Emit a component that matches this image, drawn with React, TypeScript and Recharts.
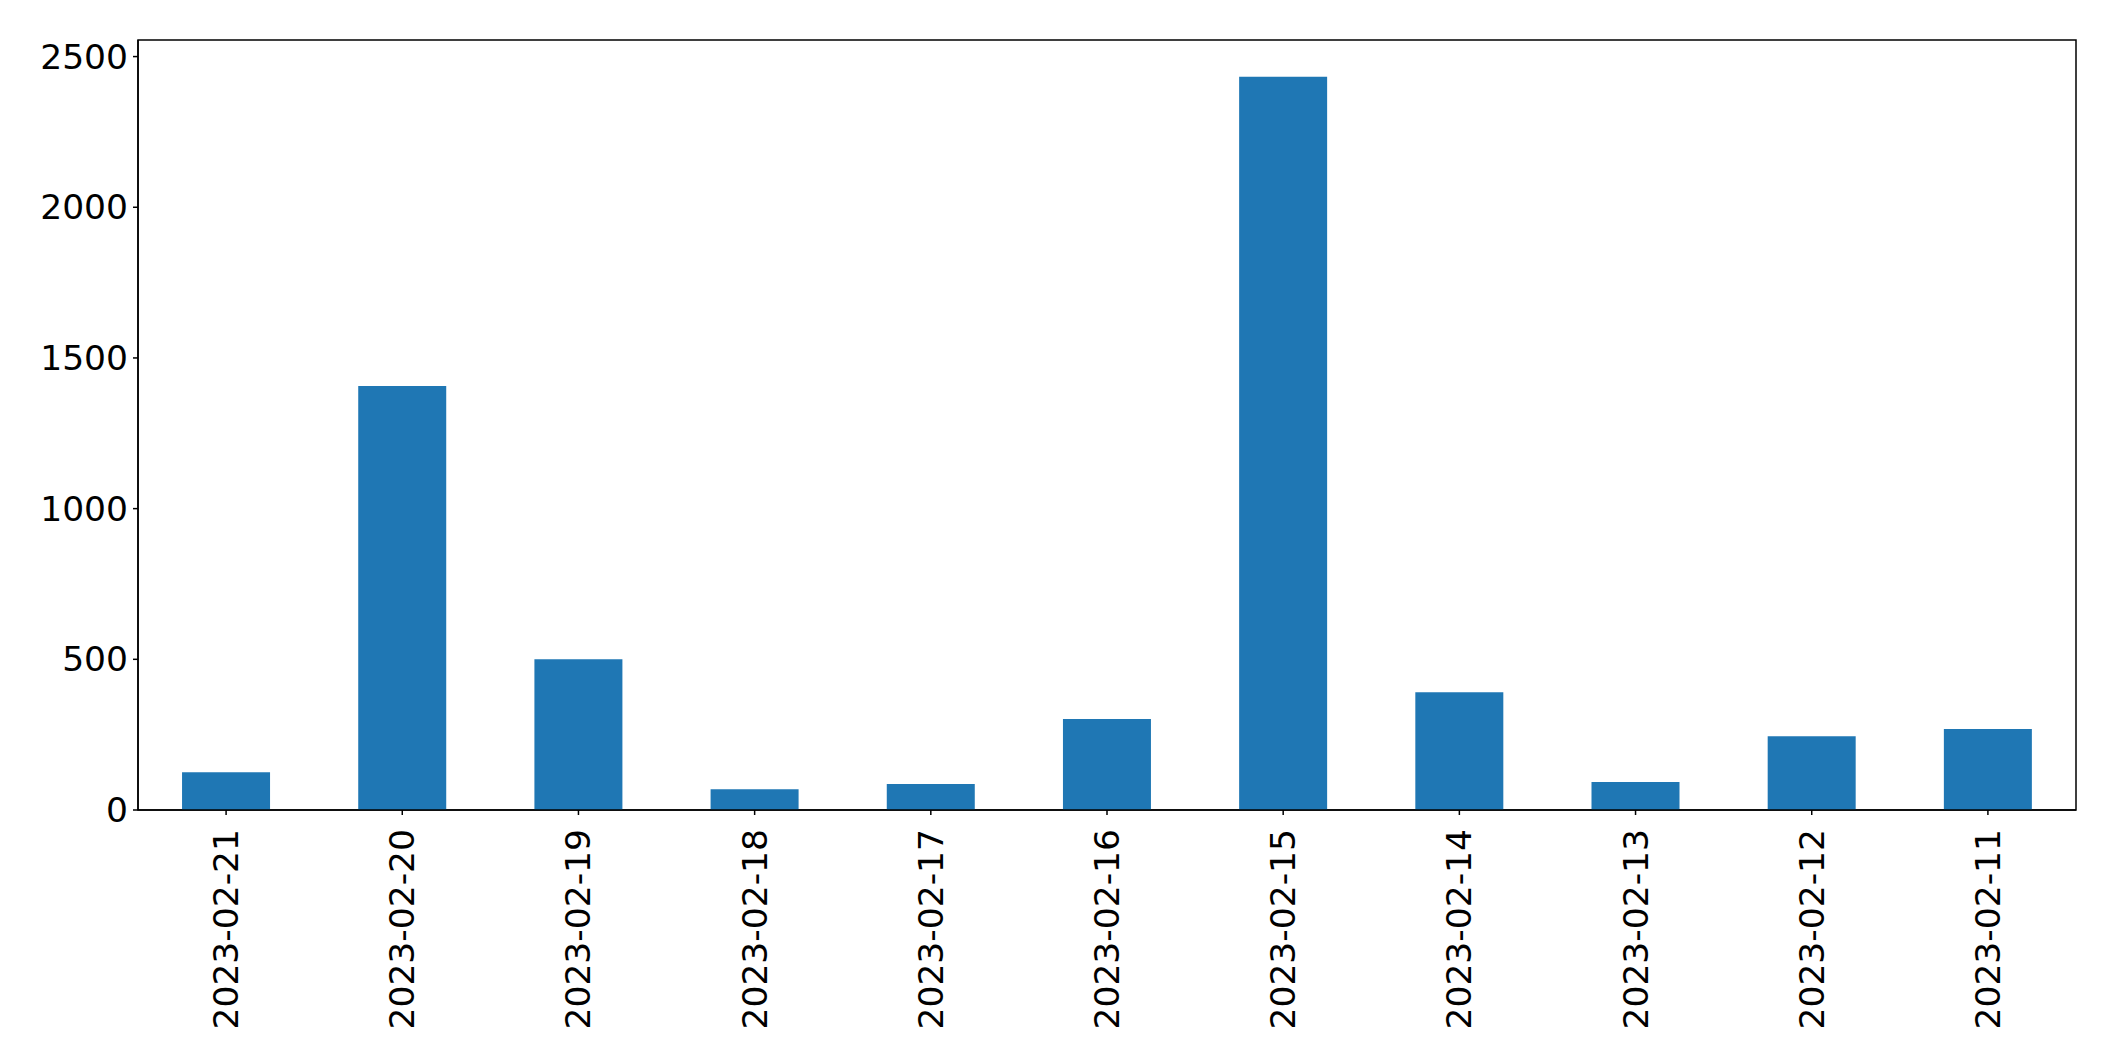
import React from "react";
import { BarChart, Bar, XAxis, YAxis, ReferenceArea } from "recharts";

const categories = [
  "2023-02-21", "2023-02-20", "2023-02-19", "2023-02-18", "2023-02-17", "2023-02-16",
  "2023-02-15", "2023-02-14", "2023-02-13", "2023-02-12", "2023-02-11",
];
const values = [125, 1407, 500, 69, 86, 302, 2433, 391, 93, 245, 269];
const yTicks = [0, 500, 1000, 1500, 2000, 2500];
const yMax = 2555;

const data = categories.map((c, i) => ({ date: c, value: values[i] }));

const FONT = "DejaVu Sans";
const FS = 34.5;

const XTick = (props: any) => {
  const { x, y, payload } = props;
  return (
    <g transform={`translate(${x},${y + 12})`}>
      <text
        transform="rotate(-90)"
        textAnchor="end"
        dominantBaseline="central"
        fontFamily={FONT}
        fontSize={FS}
        fill="#000"
      >
        {payload.value}
      </text>
    </g>
  );
};

const YTick = (props: any) => {
  const { x, y, payload } = props;
  return (
    <text
      x={x - 3}
      y={y}
      textAnchor="end"
      dominantBaseline="central"
      fontFamily={FONT}
      fontSize={FS}
      fill="#000"
    >
      {payload.value}
    </text>
  );
};

export default function App() {
  return (
    <div style={{ position: "absolute", left: 0, top: 0, background: "#fff" }}>
      <BarChart
        width={2115}
        height={1062}
        data={data}
        margin={{ top: 40, right: 39, bottom: 0, left: 0 }}
        barCategoryGap="25%"
      >
        <XAxis
          dataKey="date"
          interval={0}
          height={252}
          tickSize={5}
          tick={<XTick />}
          axisLine={{ stroke: "#000", strokeWidth: 1.5 }}
          tickLine={{ stroke: "#000", strokeWidth: 1.5 }}
        />
        <YAxis
          width={138}
          domain={[0, yMax]}
          ticks={yTicks}
          tickSize={5}
          tick={<YTick />}
          axisLine={{ stroke: "#000", strokeWidth: 1.5 }}
          tickLine={{ stroke: "#000", strokeWidth: 1.5 }}
        />
        <Bar dataKey="value" fill="#1f77b4" isAnimationActive={false} />
        <ReferenceArea
          y1={0}
          y2={yMax}
          fill="none"
          fillOpacity={0}
          stroke="#000"
          strokeWidth={1.5}
          strokeOpacity={1}
        />
      </BarChart>
    </div>
  );
}
